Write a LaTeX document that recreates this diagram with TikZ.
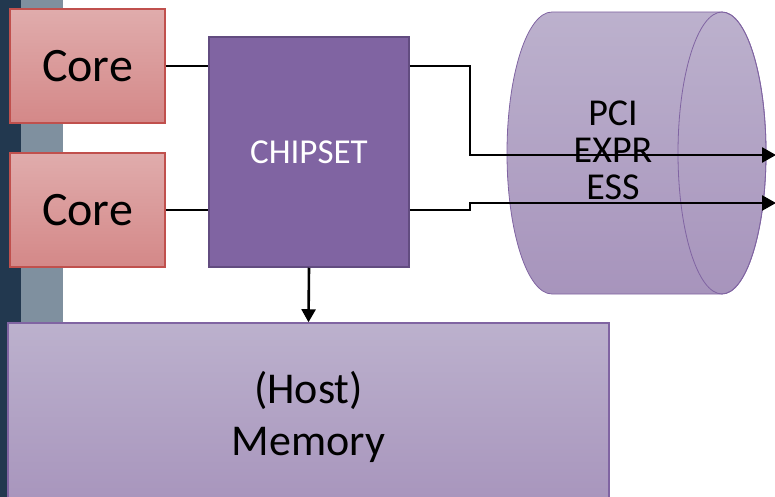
\documentclass[tikz,border=0pt]{standalone}
\usepackage{fontspec}
\setmainfont{Carlito}
\usetikzlibrary{arrows.meta}
\definecolor{navy}{HTML}{22384F}
\definecolor{slate}{HTML}{7F909F}
\definecolor{coretop}{HTML}{E0ACAC}
\definecolor{corebot}{HTML}{D48888}
\definecolor{coreline}{HTML}{C0504D}
\definecolor{chipfill}{HTML}{8064A2}
\definecolor{chipline}{HTML}{624C80}
\definecolor{lavtop}{HTML}{BCB1CD}
\definecolor{lavbot}{HTML}{A794BC}
\definecolor{lavline}{HTML}{8064A2}
\tikzset{
  corebox/.style={rectangle, inner sep=0pt, minimum width=155pt, minimum height=114pt,
    top color=coretop, bottom color=corebot, draw=coreline, line width=1.5pt,
    font=\fontsize{48}{52}\selectfont},
  chipbox/.style={rectangle, inner sep=0pt, minimum width=200pt, minimum height=230pt,
    fill=chipfill, draw=chipline, line width=1.5pt, text=white,
    font=\fontsize{35}{40}\selectfont},
  membox/.style={rectangle, inner sep=0pt, minimum width=601pt, minimum height=187pt,
    top color=lavtop, bottom color=lavbot, draw=lavline, line width=1.5pt,
    align=center, font=\fontsize{44}{52}\selectfont},
  pcitext/.style={align=center, inner sep=0pt, font=\fontsize{38}{37}\selectfont},
  wire/.style={draw=black, line width=2.6pt},
  tip/.style={-{Triangle[length=14pt,width=15pt]}},
}
\begin{document}
\begin{tikzpicture}[x=1pt,y=-1pt]
\useasboundingbox (0,0) rectangle (775,497);
\clip (0,0) rectangle (775,497);
% side strips
\fill[navy] (0,0) rectangle (21,497);
\fill[slate] (21,0) rectangle (63,497);
% cylinder
\path[top color=lavtop, bottom color=lavbot, draw=lavline, line width=0.8pt]
  (552,12) -- (722,12) arc[start angle=-90, end angle=90, x radius=44, y radius=141]
  -- (552,294) arc[start angle=90, end angle=270, x radius=45, y radius=141] -- cycle;
\draw[lavline, line width=0.8pt] (722,153) ellipse[x radius=44, y radius=141];
\node[pcitext] (pci) at (613,150) {PCI\\EXPR\\ESS};
% boxes
\node[corebox] (core1) at (87.5,66) {Core};
\node[corebox] (core2) at (87.5,210) {Core};
\node[chipbox] (chip) at (309,152) {CHIPSET};
\node[membox] (mem) at (308.5,416.5) {(Host)\\Memory};
% connectors
\coordinate (j1) at (470,155);
\coordinate (e1) at (776,155);
\coordinate (j2) at (470,203);
\coordinate (e2) at (776,203);
\draw[wire] (core1.east) -- (core1.east -| chip.west);
\draw[wire] (core2.east) -- (core2.east -| chip.west);
\draw[wire, tip] (chip.east |- core1.east) -| (j1) -- (e1);
\draw[wire, tip] (chip.east |- core2.east) -| (j2) -- (e2);
\draw[wire, -{Triangle[length=13pt,width=14pt]}] (chip.south) -- (mem.north);
\end{tikzpicture}
\end{document}
